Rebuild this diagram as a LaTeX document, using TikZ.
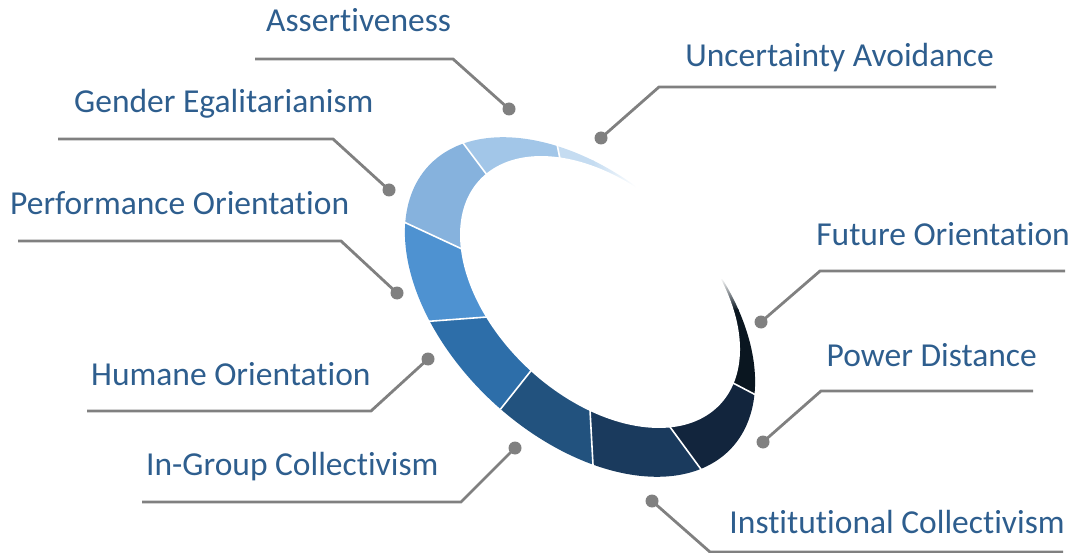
\documentclass[tikz,border=0pt]{standalone}
\usepackage{fontspec}
\setmainfont{Carlito}[RawFeature={-liga;-clig;-calt;-dlig}]
\usetikzlibrary{calc}
\definecolor{txt}{RGB}{46,94,142}
\definecolor{linegray}{RGB}{128,128,128}
\definecolor{cUA}{RGB}{197,220,241}
\definecolor{cAS}{RGB}{162,198,232}
\definecolor{cGE}{RGB}{134,178,221}
\definecolor{cPO}{RGB}{78,146,209}
\definecolor{cHO}{RGB}{45,110,169}
\definecolor{cIG}{RGB}{34,82,126}
\definecolor{cIC}{RGB}{26,58,93}
\definecolor{cPD}{RGB}{18,37,61}
\definecolor{cFO}{RGB}{10,22,32}
\newcommand\outerring{plot[domain=0:360,samples=241,variable=\t] ({580+207*cos(\t)*cos(43)-129*sin(\t)*sin(43)},{307+207*cos(\t)*sin(43)+129*sin(\t)*cos(43)}) -- cycle}
\newcommand\innerring{plot[domain=0:360,samples=241,variable=\t] ({600+164.5*cos(\t)*cos(43)-105*sin(\t)*sin(43)},{292+164.5*cos(\t)*sin(43)+105*sin(\t)*cos(43)}) -- cycle}
\begin{document}
\begin{tikzpicture}[x=1pt,y=-1pt,
  lab/.style={inner sep=0pt, text=txt, font=\fontsize{33.5}{40}\selectfont},
  conn/.style={draw=linegray, line width=2.8pt},
  dot/.style={circle, fill=linegray, inner sep=0pt, minimum size=13pt},
  divider/.style={draw=white, line width=1.6pt, shorten <=-4pt, shorten >=-4pt}]
\useasboundingbox (0,0) rectangle (1073,553);
% ring geometry
\coordinate (C) at (600,292);
\coordinate (i1) at (487,175); \coordinate (o1) at (463,143);
\coordinate (i2) at (560,159); \coordinate (o2) at (558,149);
\coordinate (i3) at (462,249); \coordinate (o3) at (406,223);
\coordinate (i4) at (487,317); \coordinate (o4) at (433,321);
\coordinate (i5) at (530,372); \coordinate (o5) at (503,406);
\coordinate (i6) at (590,410); \coordinate (o6) at (593,465);
\coordinate (i7) at (670,427); \coordinate (o7) at (703,472);
\coordinate (i8) at (733,383); \coordinate (o8) at (754,394);
\coordinate (e1) at ($(i1)!4!(o1)$);
\coordinate (e2) at ($(i2)!8!(o2)$);
\coordinate (e3) at ($(i3)!3!(o3)$);
\coordinate (e4) at ($(i4)!3!(o4)$);
\coordinate (e5) at ($(i5)!3!(o5)$);
\coordinate (e6) at ($(i6)!3!(o6)$);
\coordinate (e7) at ($(i7)!3!(o7)$);
\coordinate (e8) at ($(i8)!4!(o8)$);
\begin{scope}
  \clip \outerring;
  % Uncertainty Avoidance (fading)
  \begin{scope}
    \clip (C) -- (i2) -- (e2) -- (660,79) -- (660,292) -- cycle;
    \fill[cUA] (540,60) rectangle (594,300);
    \shade[left color=cUA, right color=white] (593,60) rectangle (636,300);
  \end{scope}
  \fill[cAS] (C) -- (i1) -- (e1) -- (e2) -- (i2) -- cycle;
  \fill[cGE] (C) -- (i3) -- (e3) -- (e1) -- (i1) -- cycle;
  \fill[cPO] (C) -- (i4) -- (e4) -- (e3) -- (i3) -- cycle;
  \fill[cHO] (C) -- (i5) -- (e5) -- (e4) -- (i4) -- cycle;
  \fill[cIG] (C) -- (i6) -- (e6) -- (e5) -- (i5) -- cycle;
  \fill[cIC] (C) -- (i7) -- (e7) -- (e6) -- (i6) -- cycle;
  \fill[cPD] (C) -- (i8) -- (e8) -- (e7) -- (i7) -- cycle;
  % Future Orientation (fading)
  \begin{scope}
    \clip (C) -- (i8) -- (e8) -- (830,276) -- (690,276) -- cycle;
    \fill[cFO] (690,309) rectangle (830,440);
    \shade[top color=white, bottom color=cFO] (690,278) rectangle (830,310);
  \end{scope}
\end{scope}
\fill[white] \innerring;
\foreach \k in {1,...,8} { \draw[divider] (i\k) -- (o\k); }
% connectors
\coordinate (bA) at (453,59);  \coordinate (eA) at (255,59);
\coordinate (bG) at (333,139); \coordinate (eG) at (58,139);
\coordinate (bP) at (341,241); \coordinate (eP) at (18,241);
\coordinate (bH) at (371,411); \coordinate (eH) at (87,411);
\coordinate (bI) at (461,502); \coordinate (eI) at (142,502);
\coordinate (bC) at (710,552); \coordinate (eC) at (1063,552);
\coordinate (bD) at (821,391); \coordinate (eD) at (1033,391);
\coordinate (bF) at (820,271); \coordinate (eF) at (1065,271);
\coordinate (bU) at (659,87);  \coordinate (eU) at (996,87);
\node[dot] (dA) at (509,109) {};
\node[dot] (dG) at (389,190) {};
\node[dot] (dP) at (397,293) {};
\node[dot] (dH) at (428,359) {};
\node[dot] (dI) at (515,448) {};
\node[dot] (dC) at (652,501) {};
\node[dot] (dD) at (763,442) {};
\node[dot] (dF) at (761,322) {};
\node[dot] (dU) at (601,138) {};
\foreach \n in {A,G,P,H,I,C,D,F,U} { \draw[conn] (d\n.center) -- (b\n) -- (e\n); }
% labels
\node[lab, anchor=base west] (tA) at (266,32) {Assertiveness};
\node[lab, anchor=base west] (tG) at (74,113) {Gender Egalitarianism};
\node[lab, anchor=base west] (tP) at (10,215) {Performance Orientation};
\node[lab, anchor=base west] (tH) at (91,385) {Humane Orientation};
\node[lab, anchor=base west] (tI) at (146,475) {In-Group Collectivism};
\node[lab, anchor=base east] (tU) at (994,67) {Uncertainty Avoidance};
\node[lab, anchor=base east] (tF) at (1070,246) {Future Orientation};
\node[lab, anchor=base east] (tD) at (1037,366) {Power Distance};
\node[lab, anchor=base east] (tC) at (1065,533) {Institutional Collectivism};
\end{tikzpicture}
\end{document}
